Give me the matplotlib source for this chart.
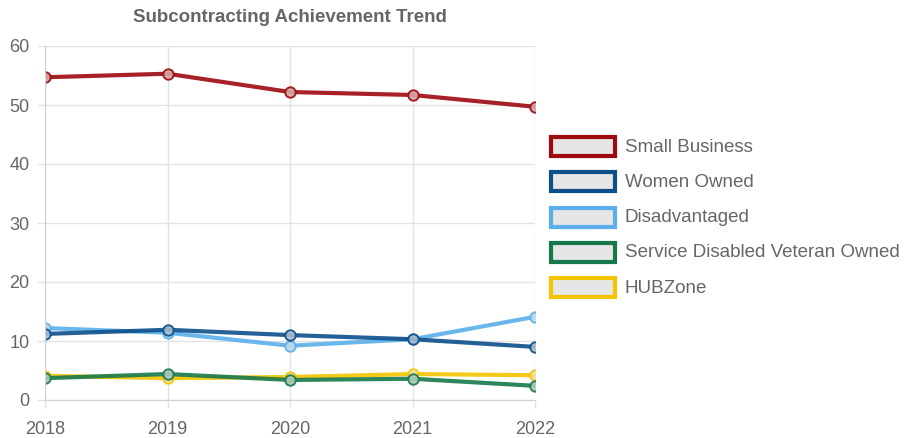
import matplotlib.pyplot as plt
from matplotlib.patches import Rectangle
from matplotlib.colors import to_rgb

plt.rcParams['font.family'] = ['Liberation Sans', 'DejaVu Sans']

# datos
years = ['2018', '2019', '2020', '2021', '2022']
series_names = ['Small Business', 'Women Owned', 'Disadvantaged',
                'Service Disabled Veteran Owned', 'HUBZone']
small_business = [54.7, 55.3, 52.2, 51.7, 49.7]
women_owned = [11.2, 11.9, 11.0, 10.3, 9.0]
disadvantaged = [12.2, 11.4, 9.2, 10.3, 14.1]
sdvo = [3.7, 4.4, 3.4, 3.6, 2.4]
hubzone = [4.1, 3.7, 3.9, 4.4, 4.2]
colores = ['#9e0a0f', '#0d4f8b', '#5aafea', '#17794a', '#f2c500']

valores = [small_business, women_owned, disadvantaged, sdvo, hubzone]


def tinte(c, f=0.3):
    # mezcla el color con gris claro para el relleno del marcador
    r, g, b = to_rgb(c)
    base = to_rgb('#ececec')
    return tuple(f * a + (1 - f) * bb for a, bb in zip((r, g, b), base))


fig = plt.figure(figsize=(9.08, 4.38), dpi=100)
ax = fig.add_axes([45 / 908, 38 / 438, 490 / 908, 354 / 438])

x = list(range(len(years)))
# orden de dibujo: el primero queda encima
for nombre, ys, c in reversed(list(zip(series_names, valores, colores))):
    ax.plot(x, ys, color=c, lw=3, marker='o', ms=7.5, mfc=tinte(c),
            mec=c, mew=1.4, alpha=0.9, solid_capstyle='round')

ax.set_xlim(0, 4)
ax.set_ylim(0, 60)
ax.set_yticks([0, 10, 20, 30, 40, 50, 60])
ax.set_xticks(x)
ax.set_xticklabels(years)
ax.grid(True, color='#e3e3e3', lw=1)
ax.set_axisbelow(True)
for s in ax.spines.values():
    s.set_visible(False)
ax.spines['left'].set_visible(True)
ax.spines['bottom'].set_visible(True)
ax.spines['left'].set_color('#d0d0d0')
ax.spines['bottom'].set_color('#d0d0d0')
ax.tick_params(colors='#666666', labelsize=13, length=6, width=1)
ax.tick_params(axis='both', color='#e3e3e3')
ax.tick_params(axis='x', pad=9)
ax.tick_params(axis='y', pad=5)

fig.text(290 / 908, 1 - 18 / 438, 'Subcontracting Achievement Trend',
         ha='center', va='center', fontsize=13.5, fontweight='bold', color='#666666')

# leyenda a mano
for i, (nombre, c) in enumerate(zip(series_names, colores)):
    yc = 1 - (147 + 35.3 * i) / 438
    fig.patches.append(Rectangle((551 / 908, yc - 9 / 438), 64 / 908, 19 / 438,
                                 transform=fig.transFigure, facecolor='#e6e6e6',
                                 edgecolor=c, lw=3))
    fig.text(625 / 908, yc, nombre, ha='left', va='center', fontsize=13.5, color='#666666')

fig.savefig('out.png', dpi=100)
